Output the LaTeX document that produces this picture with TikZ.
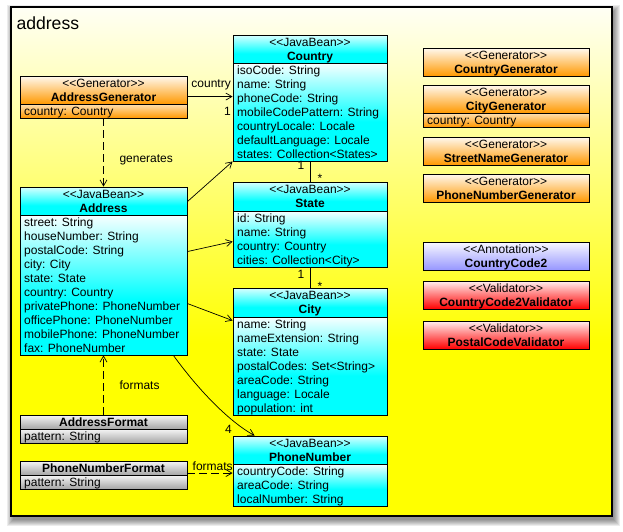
\documentclass[tikz,border=0pt]{standalone}
\usepackage{fontspec}
\setmainfont{Liberation Sans}[Ligatures=TeXOff]
\usetikzlibrary{arrows.meta,fit}

\definecolor{bcyan}{RGB}{0,255,255}
\definecolor{borange}{RGB}{255,153,0}
\definecolor{bpurple}{RGB}{150,150,255}
\definecolor{bred}{RGB}{255,0,0}
\definecolor{bgrey}{RGB}{165,165,165}
\definecolor{byellow}{RGB}{255,255,0}

\pgfdeclareverticalshading{cyanhead}{100bp}{color(0bp)=(bcyan); color(25bp)=(bcyan); color(42bp)=(bcyan); color(75bp)=(bcyan!15!white); color(100bp)=(bcyan!15!white)}
\pgfdeclareverticalshading{cyanattr}{100bp}{color(0bp)=(bcyan); color(25bp)=(bcyan); color(45bp)=(bcyan); color(75bp)=(bcyan!3!white); color(100bp)=(bcyan!3!white)}
\pgfdeclareverticalshading{orangehead}{100bp}{color(0bp)=(borange); color(25bp)=(borange); color(75bp)=(borange!6!white); color(100bp)=(borange!6!white)}
\pgfdeclareverticalshading{orangeattr}{100bp}{color(0bp)=(borange); color(25bp)=(borange); color(75bp)=(borange!30!white); color(100bp)=(borange!30!white)}
\pgfdeclareverticalshading{purplehead}{100bp}{color(0bp)=(bpurple); color(25bp)=(bpurple); color(75bp)=(bpurple!6!white); color(100bp)=(bpurple!6!white)}
\pgfdeclareverticalshading{redhead}{100bp}{color(0bp)=(bred); color(25bp)=(bred); color(75bp)=(bred!6!white); color(100bp)=(bred!6!white)}
\pgfdeclareverticalshading{greyhead}{100bp}{color(0bp)=(bgrey); color(25bp)=(bgrey); color(75bp)=(bgrey!10!white); color(100bp)=(bgrey!10!white)}
\pgfdeclareverticalshading{bgshade}{100bp}{color(0bp)=(byellow); color(25bp)=(byellow); color(42bp)=(byellow); color(75bp)=(byellow!4!white); color(100bp)=(byellow!4!white)}

\newcommand\umlshade[5]{\shade[shading=#5] (#1,#2) rectangle (#3,#4);}
\newcommand\umlframe[5]{\node[classframe, fit={(#2,#3) (#4,#5)}] (#1) {};}
\newcommand\umlsep[3]{\draw[sepline] (#1,#3) -- (#2,#3);}
\newcommand\umlhdr[6]{%
  \node[stereo] (#1-s) at ({(#2+#4)/2},{#3+11.5}) {#5};
  \node[cname] (#1-n) at ({(#2+#4)/2},{#3+25}) {#6};}
\newcommand\umlattrs[4]{%
  \foreach \t [count=\i] in {#4} \node[attr] (#1-a\i) at ({#2+4},{#3+11.3+14*(\i-1)}) {\t};}

\tikzset{
  stereo/.style={anchor=base, inner sep=0pt, font=\fontsize{12}{14}\selectfont},
  cname/.style={anchor=base, inner sep=0pt, font=\fontsize{12}{14}\selectfont\bfseries},
  attr/.style={anchor=base west, inner sep=0pt, font=\fontsize{12}{14}\selectfont},
  lbl/.style={inner sep=0pt, font=\fontsize{12}{14}\selectfont},
  classframe/.style={draw=black, line width=0.9pt, inner sep=0pt},
  sepline/.style={draw=black, line width=0.9pt},
  assoc/.style={draw=black, line width=0.7pt, -{Straight Barb[length=6pt,width=7pt]}},
  dep/.style={assoc, dash pattern=on 8pt off 4pt},
  plainline/.style={draw=black, line width=0.7pt}
}

\begin{document}
\begin{tikzpicture}[x=1pt,y=-1pt]
\useasboundingbox (0,0) rectangle (623,531);

% package frame with shadow
\foreach \r in {0,...,6} \fill[black,opacity=0.075] ({13-\r},{11-\r}) rectangle ({614+\r},{520+\r});
\shade[shading=bgshade] (11,7) rectangle (612,516);
\node[draw=black, line width=1.2pt, inner sep=0pt, fit={(11,7) (612,516)}] (pkg) {};
\node[anchor=base west, inner sep=0pt, font=\fontsize{17.6}{20}\selectfont] (title) at (16.3,29.3) {address};

% AddressGenerator
\umlshade{20}{76}{187}{104}{orangehead}
\umlshade{20}{104}{187}{118}{orangeattr}
\umlframe{agen}{20}{76}{187}{118}
\umlsep{20}{187}{104}
\umlhdr{agen}{20}{76}{187}{<<Generator>>}{AddressGenerator}
\umlattrs{agen}{20}{104}{country: Country}

% Country
\umlshade{233}{35}{387}{63}{cyanhead}
\umlshade{233}{63}{387}{161}{cyanattr}
\umlframe{country}{233}{35}{387}{161}
\umlsep{233}{387}{63}
\umlhdr{country}{233}{35}{387}{<<JavaBean>>}{Country}
\umlattrs{country}{233}{63}{isoCode: String, name: String, phoneCode: String, mobileCodePattern: String, countryLocale: Locale, defaultLanguage: Locale, states: Collection<States>}

% State
\umlshade{233}{182}{387}{211}{cyanhead}
\umlshade{233}{211}{387}{267}{cyanattr}
\umlframe{state}{233}{182}{387}{267}
\umlsep{233}{387}{211}
\umlhdr{state}{233}{182}{387}{<<JavaBean>>}{State}
\umlattrs{state}{233}{211}{id: String, name: String, country: Country, cities: Collection<City>}

% City
\umlshade{233}{288}{387}{317}{cyanhead}
\umlshade{233}{317}{387}{415}{cyanattr}
\umlframe{city}{233}{288}{387}{415}
\umlsep{233}{387}{317}
\umlhdr{city}{233}{288}{387}{<<JavaBean>>}{City}
\umlattrs{city}{233}{317}{name: String, nameExtension: String, state: State, postalCodes: Set<String>, areaCode: String, language: Locale, population: int}

% PhoneNumber
\umlshade{233}{436}{387}{464}{cyanhead}
\umlshade{233}{464}{387}{506}{cyanattr}
\umlframe{phone}{233}{436}{387}{506}
\umlsep{233}{387}{464}
\umlhdr{phone}{233}{436}{387}{<<JavaBean>>}{PhoneNumber}
\umlattrs{phone}{233}{464}{countryCode: String, areaCode: String, localNumber: String}

% Address
\umlshade{20}{187}{187}{215}{cyanhead}
\umlshade{20}{215}{187}{355}{cyanattr}
\umlframe{address}{20}{187}{187}{355}
\umlsep{20}{187}{215}
\umlhdr{address}{20}{187}{187}{<<JavaBean>>}{Address}
\umlattrs{address}{20}{215}{street: String, houseNumber: String, postalCode: String, city: City, state: State, country: Country, privatePhone: PhoneNumber, officePhone: PhoneNumber, mobilePhone: PhoneNumber, fax: PhoneNumber}

% AddressFormat
\umlshade{20}{415}{187}{429}{greyhead}
\umlshade{20}{429}{187}{443}{greyhead}
\umlframe{aformat}{20}{415}{187}{443}
\umlsep{20}{187}{429}
\node[cname] (aformat-n) at (103.5,426.5) {AddressFormat};
\umlattrs{aformat}{20}{429}{pattern: String}

% PhoneNumberFormat
\umlshade{20}{461}{187}{475}{greyhead}
\umlshade{20}{475}{187}{489}{greyhead}
\umlframe{pformat}{20}{461}{187}{489}
\umlsep{20}{187}{475}
\node[cname] (pformat-n) at (103.5,472.5) {PhoneNumberFormat};
\umlattrs{pformat}{20}{475}{pattern: String}

% right column
\umlshade{423}{48}{589}{76}{orangehead}
\umlframe{cgen}{423}{48}{589}{76}
\umlhdr{cgen}{423}{48}{589}{<<Generator>>}{CountryGenerator}

\umlshade{423}{85}{589}{113}{orangehead}
\umlshade{423}{113}{589}{127}{orangeattr}
\umlframe{citygen}{423}{85}{589}{127}
\umlsep{423}{589}{113}
\umlhdr{citygen}{423}{85}{589}{<<Generator>>}{CityGenerator}
\umlattrs{citygen}{423}{113}{country: Country}

\umlshade{423}{137}{589}{165}{orangehead}
\umlframe{sgen}{423}{137}{589}{165}
\umlhdr{sgen}{423}{137}{589}{<<Generator>>}{StreetNameGenerator}

\umlshade{423}{174}{589}{202}{orangehead}
\umlframe{pgen}{423}{174}{589}{202}
\umlhdr{pgen}{423}{174}{589}{<<Generator>>}{PhoneNumberGenerator}

\umlshade{423}{242}{589}{270}{purplehead}
\umlframe{cc2}{423}{242}{589}{270}
\umlhdr{cc2}{423}{242}{589}{<<Annotation>>}{CountryCode2}

\umlshade{423}{281}{589}{309}{redhead}
\umlframe{cc2v}{423}{281}{589}{309}
\umlhdr{cc2v}{423}{281}{589}{<<Validator>>}{CountryCode2Validator}

\umlshade{423}{321}{589}{349}{redhead}
\umlframe{pcv}{423}{321}{589}{349}
\umlhdr{pcv}{423}{321}{589}{<<Validator>>}{PostalCodeValidator}

% connectors
\draw[assoc] ([yshift=-21pt]agen.north east) -- ([yshift=-62pt]country.north west);
\node[lbl, anchor=base east] (l-country) at (231,87.3) {country};
\node[lbl, anchor=base east] (l-country1) at (231,115) {1};

\draw[dep] (agen.south) -- (address.north);
\node[lbl, anchor=base west] (l-gen) at (119.3,162.3) {generates};

\draw[assoc] ([yshift=-15pt]address.north east) -- (country.south west);
\draw[assoc] ([yshift=-65pt]address.north east) -- ([yshift=-60pt]state.north west);
\draw[assoc] ([yshift=-117pt]address.north east) -- ([yshift=-33pt]city.north west);
\draw[assoc] ([xshift=-14pt]address.south east) .. controls (200,392) and (230,422) .. ([xshift=22pt]phone.north west);
\node[lbl, anchor=base west] (l-four) at (225,433) {4};

\draw[plainline] (country.south) -- (state.north);
\node[lbl, anchor=base] (l-cs1) at (301,169) {1};
\node[lbl, anchor=base] (l-cs2) at (320,182.6) {*};
\draw[plainline] (state.south) -- (city.north);
\node[lbl, anchor=base] (l-sc1) at (301,278) {1};
\node[lbl, anchor=base] (l-sc2) at (320,290.3) {*};

\draw[dep] (aformat.north) -- (address.south);
\node[lbl, anchor=base west] (l-fmt1) at (119.3,389) {formats};

\draw[dep] ([yshift=-12.5pt]pformat.north east) -- ([yshift=-37.5pt]phone.north west);
\node[lbl, anchor=base west] (l-fmt2) at (192.5,470) {formats};
\end{tikzpicture}
\end{document}
